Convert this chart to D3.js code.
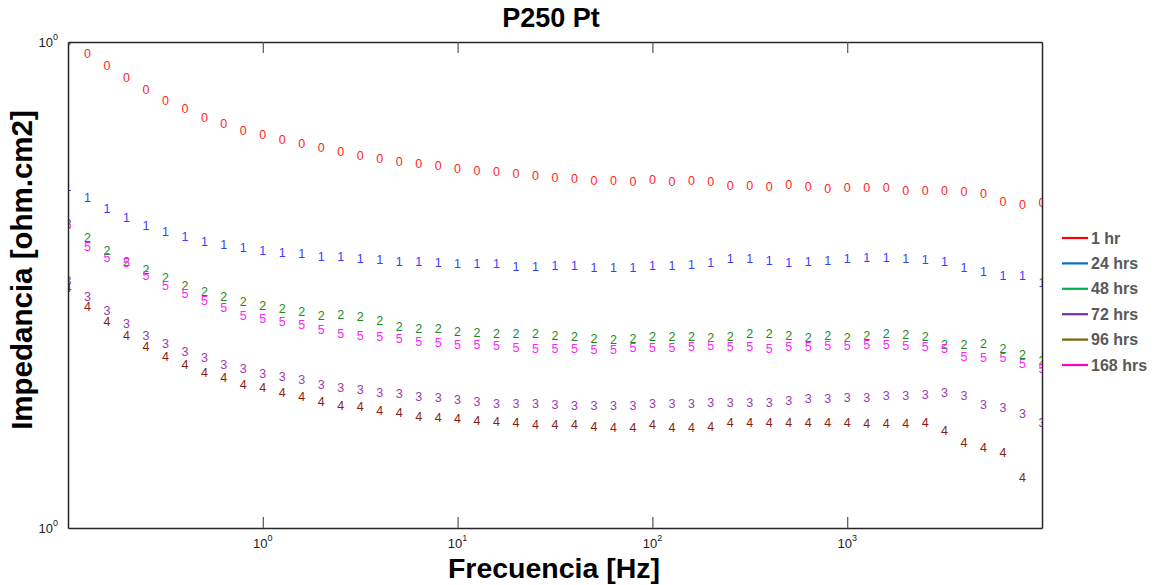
<!DOCTYPE html>
<html><head><meta charset="utf-8">
<script src="https://cdn.jsdelivr.net/npm/d3@7"></script>
<style>body{margin:0;background:#fff}svg{display:block}</style>
</head><body>
<svg id="chart" width="1153" height="585"></svg>
<script>
// ---------- DATA ----------
const frequencies = [0.1,0.1259,0.1585,0.1995,0.2512,0.3162,0.3981,0.5012,0.6310,0.7943,
  1,1.259,1.585,1.995,2.512,3.162,3.981,5.012,6.310,7.943,
  10,12.59,15.85,19.95,25.12,31.62,39.81,50.12,63.10,79.43,
  100,125.9,158.5,199.5,251.2,316.2,398.1,501.2,631.0,794.3,
  1000,1259,1585,1995,2512,3162,3981,5012,6310,7943,10000];

const imp1hr = [3.020,2.938,2.858,2.780,2.704,2.636,2.588,2.535,2.500,2.460,
  2.438,2.410,2.388,2.366,2.344,2.323,2.307,2.291,2.281,2.270,
  2.254,2.244,2.239,2.229,2.218,2.208,2.203,2.193,2.193,2.188,
  2.198,2.188,2.193,2.188,2.168,2.168,2.163,2.173,2.163,2.153,
  2.158,2.158,2.158,2.143,2.143,2.143,2.138,2.128,2.089,2.075,2.085];

const imp24hrs = [2.163,2.109,2.056,2.014,1.977,1.950,1.928,1.906,1.893,1.880,
  1.866,1.858,1.854,1.841,1.841,1.832,1.828,1.820,1.820,1.816,
  1.811,1.811,1.811,1.799,1.799,1.803,1.803,1.795,1.795,1.795,
  1.803,1.803,1.807,1.816,1.832,1.832,1.824,1.816,1.820,1.824,
  1.832,1.837,1.837,1.832,1.828,1.820,1.795,1.778,1.762,1.762,1.734];

const imp48hrs = [1.986,1.923,1.866,1.820,1.787,1.754,1.722,1.698,1.679,1.660,
  1.645,1.633,1.622,1.607,1.611,1.603,1.589,1.567,1.560,1.560,
  1.549,1.545,1.542,1.542,1.542,1.535,1.531,1.524,1.521,1.524,
  1.531,1.531,1.531,1.528,1.531,1.542,1.542,1.535,1.528,1.535,
  1.528,1.535,1.542,1.538,1.531,1.503,1.503,1.507,1.490,1.469,1.449];

const imp72hrs = [1.742,1.679,1.626,1.578,1.535,1.507,1.479,1.459,1.436,1.422,
  1.406,1.396,1.387,1.371,1.362,1.355,1.346,1.343,1.334,1.331,
  1.324,1.318,1.312,1.312,1.312,1.309,1.306,1.306,1.306,1.306,
  1.312,1.312,1.312,1.315,1.315,1.315,1.315,1.321,1.328,1.328,
  1.331,1.331,1.337,1.337,1.340,1.346,1.337,1.309,1.300,1.282,1.256];

const imp96hrs = [1.714,1.641,1.585,1.535,1.496,1.462,1.436,1.409,1.393,1.371,
  1.362,1.346,1.334,1.318,1.306,1.303,1.291,1.285,1.274,1.271,
  1.268,1.262,1.259,1.256,1.250,1.250,1.250,1.245,1.242,1.242,
  1.250,1.242,1.242,1.245,1.256,1.256,1.256,1.256,1.256,1.256,
  1.256,1.253,1.253,1.253,1.256,1.233,1.200,1.186,1.172,1.107,null];

const imp168hrs = [1.982,1.884,1.837,1.816,1.762,1.722,1.690,1.664,1.637,1.607,
  1.596,1.585,1.574,1.556,1.542,1.535,1.531,1.524,1.514,1.510,
  1.503,1.503,1.500,1.493,1.490,1.490,1.490,1.486,1.486,1.493,
  1.493,1.493,1.496,1.500,1.496,1.496,1.490,1.496,1.496,1.500,
  1.500,1.503,1.503,1.500,1.496,1.490,1.462,1.459,1.459,1.439,1.422];

const seriesNames = ["1 hr","24 hrs","48 hrs","72 hrs","96 hrs","168 hrs"];
const seriesValues = [imp1hr, imp24hrs, imp48hrs, imp72hrs, imp96hrs, imp168hrs];
const markerChars = ["0","1","2","3","4","5"];
const markerColors = ["#ff1e1e","#3c3cff","#1a8a1a","#9a3cb0","#8b1c14","#ff1eff"];
const legendColors = ["#ff0000","#0070c0","#00b050","#7030a0","#7f6000","#ff00cc"];

const xTickValues = [1,10,100,1000];
const yDomain = [0.9863, 3.02];
const yTickValues = [0.9863, 3.02];
const yTickLabels = ["0","0"];   // exponents shown as 10^0

const titleText = "P250 Pt";
const xLabel = "Frecuencia [Hz]";
const yLabel = "Impedancia [ohm.cm2]";

// ---------- LAYOUT ----------
const svg = d3.select("#chart");
const plot = {left: 68, right: 1042, top: 42, bottom: 528};

const x = d3.scaleLog().domain([0.1, 10000]).range([plot.left, plot.right]);
const y = d3.scaleLog().domain(yDomain).range([plot.bottom, plot.top]);

svg.append("defs").append("clipPath").attr("id","clip")
  .append("rect").attr("x",plot.left).attr("y",plot.top)
  .attr("width",plot.right-plot.left).attr("height",plot.bottom-plot.top);

// markers (text digits)
const g = svg.append("g").attr("clip-path","url(#clip)");
seriesValues.forEach((vals, i) => {
  const pts = frequencies.map((f, k) => ({f, v: vals[k]})).filter(d => d.v != null);
  g.selectAll(null).data(pts).enter().append("text")
    .attr("x", d => x(d.f)).attr("y", d => y(d.v))
    .attr("text-anchor","middle").attr("dominant-baseline","central")
    .attr("font-family","'Liberation Sans', Arial, sans-serif")
    .attr("font-size", 12.5)
    .attr("fill", markerColors[i])
    .text(markerChars[i]);
});

// axes
const axisColor = "#262626";
const xb = svg.append("g").attr("transform",`translate(0,${plot.bottom})`)
  .call(d3.axisBottom(x).tickValues(xTickValues).tickSizeInner(-11).tickSizeOuter(0).tickFormat(() => ""));
const xt = svg.append("g").attr("transform",`translate(0,${plot.top})`)
  .call(d3.axisTop(x).tickValues(xTickValues).tickSizeInner(-11).tickSizeOuter(0).tickFormat(() => ""));
const yl = svg.append("g").attr("transform",`translate(${plot.left},0)`)
  .call(d3.axisLeft(y).tickValues(yTickValues).tickSizeInner(0).tickSizeOuter(0).tickFormat(() => ""));
const yr = svg.append("g").attr("transform",`translate(${plot.right},0)`)
  .call(d3.axisRight(y).tickValues(yTickValues).tickSizeInner(0).tickSizeOuter(0).tickFormat(() => ""));
[xb, xt, yl, yr].forEach(a => {
  a.selectAll("path").attr("stroke", axisColor).attr("stroke-width", 1.5);
  a.selectAll("line").attr("stroke", "#555").attr("stroke-width", 1.2);
});

// x tick labels 10^n
const xExp = d => Math.round(Math.log10(d));
xTickValues.forEach(v => {
  const t = svg.append("text").attr("x", x(v)).attr("y", 548)
    .attr("text-anchor","middle").attr("font-family","'Liberation Sans', Arial, sans-serif")
    .attr("font-size",13).attr("fill","#222");
  t.append("tspan").text("10");
  t.append("tspan").attr("dy",-7).attr("font-size",9).text(xExp(v));
});
// y tick labels
yTickValues.forEach((v, i) => {
  const t = svg.append("text").attr("x", 58).attr("y", y(v) + 5)
    .attr("text-anchor","end").attr("font-family","'Liberation Sans', Arial, sans-serif")
    .attr("font-size",13).attr("fill","#222");
  t.append("tspan").text("10");
  t.append("tspan").attr("dy",-7).attr("font-size",9).text(yTickLabels[i]);
});

// title and axis labels
svg.append("text").attr("x", 551).attr("y", 27).attr("text-anchor","middle")
  .attr("font-family","'Liberation Sans', Arial, sans-serif").attr("font-weight","bold")
  .attr("font-size", 27).attr("fill","#000").text(titleText);
svg.append("text").attr("x", 554).attr("y", 578).attr("text-anchor","middle")
  .attr("font-family","'Liberation Sans', Arial, sans-serif").attr("font-weight","bold")
  .attr("font-size", 28.5).attr("fill","#000").text(xLabel);
svg.append("text").attr("transform","translate(32,270) rotate(-90)").attr("text-anchor","middle")
  .attr("font-family","'Liberation Sans', Arial, sans-serif").attr("font-weight","bold")
  .attr("font-size", 29.5).attr("fill","#000").text(yLabel);

// legend
const lg = svg.append("g");
seriesNames.forEach((name, i) => {
  const ly = 238 + i * 25.4;
  lg.append("line").attr("x1",1062).attr("x2",1088).attr("y1",ly).attr("y2",ly)
    .attr("stroke", legendColors[i]).attr("stroke-width", 2.2);
  lg.append("text").attr("x",1091).attr("y",ly).attr("dominant-baseline","central")
    .attr("font-family","'Liberation Sans', Arial, sans-serif").attr("font-weight","bold")
    .attr("font-size",16).attr("fill","#595959").text(name);
});
</script>
</body></html>
